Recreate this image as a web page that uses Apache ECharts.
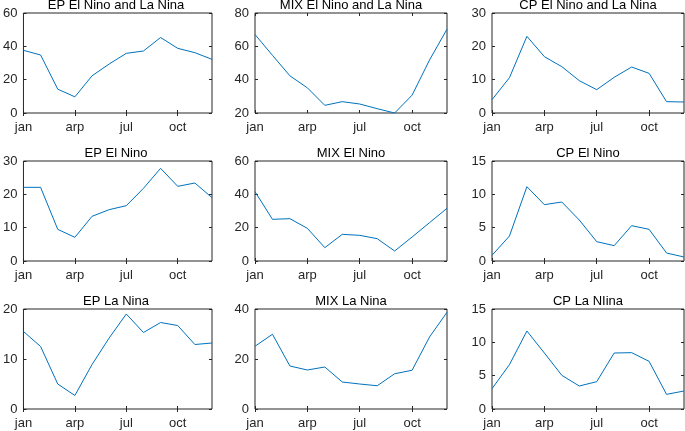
<!DOCTYPE html>
<html>
<head>
<meta charset="utf-8">
<script src="https://cdn.jsdelivr.net/npm/echarts@6/dist/echarts.min.js"></script>
<style>html,body{margin:0;padding:0;background:#fff}#c{width:685px;height:431px}</style>
</head>
<body>
<div id="c"></div>
<script>
var months = ['jan','feb','mar','arp','may','jun','jul','aug','sep','oct','nov','dec'];

var titles = ['EP El Nino and La Nina','MIX El Nino and La Nina','CP El Nino and La Nina',
              'EP El Nino','MIX El Nino','CP El Nino',
              'EP La Nina','MIX La Nina','CP La NIina'];

var epBoth  = [37.6,34.8,14.3,9.7,22.3,29.4,35.8,37.2,45.3,38.8,36.2,32.2];
var mixBoth = [67.1,54.6,42.3,35.1,24.6,26.8,25.4,22.6,20.0,30.7,51.8,70.3];
var cpBoth  = [4.0,10.6,23.0,16.9,13.9,9.7,7.0,10.7,13.8,11.9,3.4,3.3];
var epNino  = [22.1,22.1,9.5,7.1,13.4,15.4,16.6,21.8,27.8,22.4,23.4,19.0];
var mixNino = [41.6,25.0,25.4,19.6,8.0,16.0,15.4,13.4,6.0,14.4,23.0,31.6];
var cpNino  = [0.85,3.75,11.15,8.45,8.85,6.15,2.9,2.3,5.3,4.75,1.2,0.6];
var epNina  = [15.5,12.5,5.0,2.7,8.9,14.2,19.0,15.3,17.3,16.7,12.9,13.2];
var mixNina = [25.1,29.9,17.2,15.6,16.8,10.8,10.0,9.3,14.1,15.5,28.8,38.7];
var cpNina  = [3.05,6.65,11.7,8.4,5.05,3.45,4.1,8.4,8.45,7.15,2.2,2.7];

var seriesData = [epBoth,mixBoth,cpBoth,epNino,mixNino,cpNino,epNina,mixNina,cpNina];
var yMin = [0,20,0, 0,0,0, 0,0,0];
var yMax = [60,80,30, 30,60,15, 20,40,15];
var yStep = [20,20,10, 10,20,5, 10,20,5];

var lefts = [20,255,492];
var tops = [13,161,309];
var W = 192, H = 100;
var ink = '#262626';
var font = 'Liberation Sans, Arial, sans-serif';

var grids=[], xAxes=[], yAxes=[], series=[], graphics=[];
for (var i=0;i<9;i++){
  var r=Math.floor(i/3), c=i%3;
  grids.push({left:lefts[c], top:tops[r], width:W, height:H, show:true, borderColor:ink, borderWidth:1, backgroundColor:'#fff'});
  var tickEvery = function(idx){return idx%3===0;};
  xAxes.push({type:'category', gridIndex:i, data:months, boundaryGap:false, position:'bottom',
    axisLine:{show:false}, axisTick:{show:true, inside:true, length:3, interval:tickEvery, lineStyle:{color:ink}},
    axisLabel:{interval:tickEvery, color:ink, fontSize:13, fontFamily:font, margin:8},
    splitLine:{show:false}});
  xAxes.push({type:'category', gridIndex:i, data:months, boundaryGap:false, position:'top',
    axisLine:{show:false}, axisTick:{show:true, inside:true, length:3, interval:tickEvery, lineStyle:{color:ink}},
    axisLabel:{show:false}, splitLine:{show:false}});
  yAxes.push({type:'value', gridIndex:i, min:yMin[i], max:yMax[i], interval:yStep[i], position:'left',
    axisLine:{show:false}, axisTick:{show:true, inside:true, length:3, lineStyle:{color:ink}},
    axisLabel:{color:ink, fontSize:13, fontFamily:font, margin:6},
    splitLine:{show:false}});
  yAxes.push({type:'value', gridIndex:i, min:yMin[i], max:yMax[i], interval:yStep[i], position:'right',
    axisLine:{show:false}, axisTick:{show:true, inside:true, length:3, lineStyle:{color:ink}},
    axisLabel:{show:false}, splitLine:{show:false}});
  series.push({type:'line', xAxisIndex:2*i, yAxisIndex:2*i, data:seriesData[i], showSymbol:false,
    symbol:'none', lineStyle:{color:'#0072BD', width:1}, silent:true, animation:false, clip:false});
  graphics.push({type:'text', x:lefts[c]+W/2, y:tops[r]-1,
    style:{text:titles[i], align:'center', verticalAlign:'bottom', fill:'#000', font:'13px ' + font}});
}

var chart = echarts.init(document.getElementById('c'), null, {renderer:'canvas'});
chart.setOption({
  animation:false,
  grid:grids, xAxis:xAxes, yAxis:yAxes, series:series, graphic:graphics
});
</script>
</body>
</html>
